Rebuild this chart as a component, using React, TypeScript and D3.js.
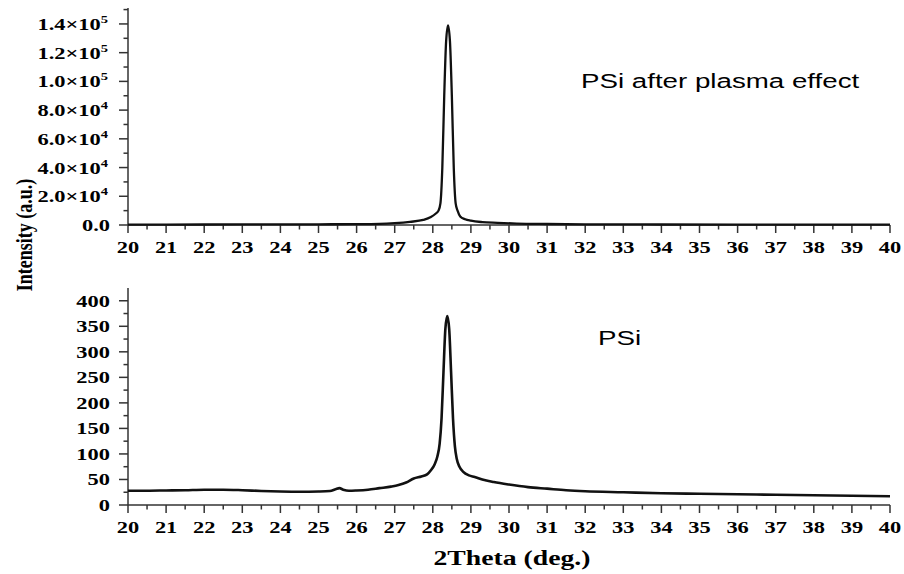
import React from "react";
import * as d3 from "d3";

// PSi after plasma effect (top panel)
const plasmaTheta = [20, 22, 24, 25, 26, 26.6, 27, 27.4, 27.75, 27.95, 28.08, 28.15, 28.2, 28.25, 28.3, 28.35, 28.4, 28.45, 28.5, 28.55, 28.6, 28.65, 28.72, 28.85, 29, 29.3, 29.7, 30.2, 31, 32, 34, 36, 38, 40];
const plasmaIntensity = [300, 350, 400, 500, 600, 800, 1300, 2200, 3500, 5500, 8000, 10000, 15000, 40000, 90000, 128000, 139000, 128000, 90000, 40000, 15000, 10000, 6000, 4000, 3000, 2000, 1500, 1000, 700, 500, 350, 300, 250, 200];

// PSi (bottom panel)
const psiTheta = [20, 20.5, 21, 21.5, 22, 22.5, 23, 23.5, 24, 24.5, 25, 25.3, 25.45, 25.55, 25.65, 25.8, 26, 26.3, 26.6, 26.9, 27.1, 27.3, 27.5, 27.7, 27.85, 27.95, 28.05, 28.12, 28.18, 28.23, 28.28, 28.33, 28.38, 28.43, 28.48, 28.53, 28.58, 28.63, 28.7, 28.8, 28.95, 29.1, 29.3, 29.6, 30, 30.5, 31, 31.5, 32, 33, 34, 35, 36, 37, 38, 39, 40];
const psiIntensity = [28, 28, 28.5, 29, 30, 30, 29, 27.5, 26.5, 26, 26.5, 27.5, 31, 33, 30, 28, 28.5, 30, 33, 36, 39, 44, 52, 56, 60, 68, 80, 95, 120, 170, 260, 345, 370, 345, 260, 170, 115, 90, 75, 65, 58, 55, 50, 45, 40, 35, 32, 29, 27, 25, 23, 22, 21, 20, 19, 18, 17];

const xMajor = d3.range(20, 41, 1);
const xMinor = d3.range(20.5, 40, 1);
const topMajor = d3.range(0, 140001, 20000);
const topMinor = d3.range(10000, 150001, 20000);
const bottomMajor = d3.range(0, 401, 50);
const bottomMinor = d3.range(25, 425, 50);

const W = 904;
const H = 574;
const SERIF = "'Liberation Serif', 'Times New Roman', serif";
const SANS = "'Liberation Sans', Arial, sans-serif";
const SX = 1.32; // the picture's text is stretched horizontally
const AXIS = "#333";

const x = d3.scaleLinear().domain([20, 40]).range([128, 890]);
const yTop = d3.scaleLinear().domain([0, 151100]).range([225, 8]);
const yBot = d3.scaleLinear().domain([0, 425]).range([505, 288]);

const sciLabel = (v: number) => {
  if (v === 0) return { m: "0.0", e: "" };
  const e = Math.floor(Math.log10(v));
  const m = (v / Math.pow(10, e)).toFixed(1);
  return { m: `${m}\u00d710`, e: String(e) };
};

function Panel({ y, theta, values, major, minor, sci, lineWidth }: any) {
  const line = d3
    .line<number>()
    .x((_, i) => x(theta[i]))
    .y((d) => y(d))
    .curve(d3.curveMonotoneX);
  const [y0, y1] = y.range();
  return (
    <g>
      {/* x axis */}
      <line x1={x(20)} x2={x(40)} y1={y0} y2={y0} stroke={AXIS} strokeWidth={1.5} />
      {xMajor.map((t) => (
        <g key={"xm" + t}>
          <line x1={x(t)} x2={x(t)} y1={y0} y2={y0 + 8} stroke={AXIS} strokeWidth={1.5} />
          <text
            transform={`translate(${x(t)},${y0 + 27.5}) scale(${SX},1)`}
            textAnchor="middle"
            fontFamily={SERIF}
            fontWeight="bold"
            fontSize={17}
          >
            {t}
          </text>
        </g>
      ))}
      {xMinor.map((t) => (
        <line key={"xn" + t} x1={x(t)} x2={x(t)} y1={y0} y2={y0 + 4.5} stroke={AXIS} strokeWidth={1.5} />
      ))}
      {/* y axis */}
      <line x1={128} x2={128} y1={y0} y2={y1} stroke={AXIS} strokeWidth={1.5} />
      {major.map((t: number) => {
        const lab = sci ? sciLabel(t) : { m: String(t), e: "" };
        return (
          <g key={"ym" + t}>
            <line x1={119} x2={128} y1={y(t)} y2={y(t)} stroke={AXIS} strokeWidth={1.5} />
            <text
              transform={`translate(${lab.e ? 108 : 110},${y(t) + 6}) scale(${SX},1)`}
              textAnchor="end"
              fontFamily={SERIF}
              fontWeight="bold"
              fontSize={17}
            >
              {lab.m}
              {lab.e && (
                <tspan fontSize={11} dy={-7}>
                  {lab.e}
                </tspan>
              )}
            </text>
          </g>
        );
      })}
      {minor.map((t: number) => (
        <line key={"yn" + t} x1={123.5} x2={128} y1={y(t)} y2={y(t)} stroke={AXIS} strokeWidth={1.5} />
      ))}
      <path d={line(values) || ""} fill="none" stroke="#111" strokeWidth={lineWidth} strokeLinejoin="round" />
    </g>
  );
}

export default function App() {
  return (
    <svg width={W} height={H} style={{ position: "absolute", left: 0, top: 0, background: "#fff" }}>
      <rect width={W} height={H} fill="#fff" />
      <Panel y={yTop} theta={plasmaTheta} values={plasmaIntensity} major={topMajor} minor={topMinor} sci lineWidth={2.3} />
      <Panel y={yBot} theta={psiTheta} values={psiIntensity} major={bottomMajor} minor={bottomMinor} sci={false} lineWidth={2.6} />
      <text transform={`translate(581,88) scale(${SX},1)`} fontFamily={SANS} fontSize={21}>
        PSi after plasma effect
      </text>
      <text transform={`translate(598,345) scale(${SX},1)`} fontFamily={SANS} fontSize={21}>
        PSi
      </text>
      <text
        transform={`translate(512,565) scale(${SX},1)`}
        textAnchor="middle"
        fontFamily={SERIF}
        fontWeight="bold"
        fontSize={21}
      >
        2Theta (deg.)
      </text>
      <text
        transform={`translate(32,235) scale(${SX},1) rotate(-90)`}
        textAnchor="middle"
        fontFamily={SERIF}
        fontWeight="bold"
        fontSize={18}
      >
        Intensity (a.u.)
      </text>
    </svg>
  );
}
